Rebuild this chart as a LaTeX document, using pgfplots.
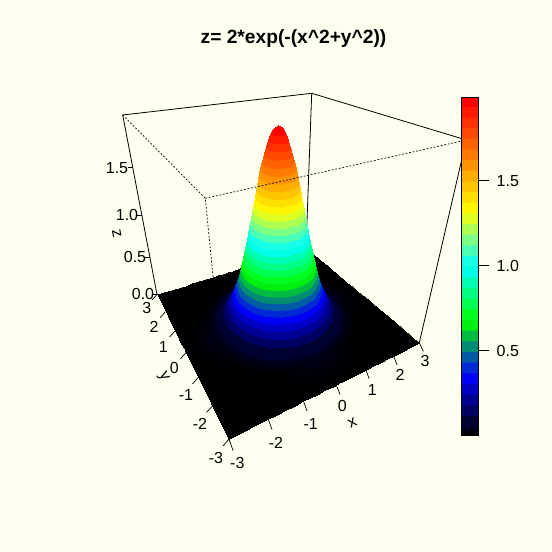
\documentclass[border=0pt]{standalone}
\usepackage{fontspec}
\setmainfont{Liberation Sans}
\usepackage{pgfplots}
\usepackage{pgfplotstable}
\pgfplotsset{compat=1.18}
\definecolor{ivory}{RGB}{255,255,240}
\pgfplotsset{colormap={bands}{
rgb255(0pt)=(0,0,0) rgb255(1pt)=(0,0,0) rgb255(9pt)=(0,0,40)
rgb255(10pt)=(0,0,49) rgb255(19pt)=(0,0,49)
rgb255(20pt)=(0,0,99) rgb255(29pt)=(0,0,99)
rgb255(30pt)=(0,0,148) rgb255(39pt)=(0,0,148)
rgb255(40pt)=(0,0,197) rgb255(49pt)=(0,0,197)
rgb255(50pt)=(0,0,247) rgb255(59pt)=(0,0,247)
rgb255(60pt)=(0,41,214) rgb255(69pt)=(0,41,214)
rgb255(70pt)=(0,90,165) rgb255(79pt)=(0,90,165)
rgb255(80pt)=(0,140,115) rgb255(89pt)=(0,140,115)
rgb255(90pt)=(0,189,66) rgb255(99pt)=(0,189,66)
rgb255(100pt)=(0,238,16) rgb255(109pt)=(0,238,16)
rgb255(110pt)=(0,255,33) rgb255(119pt)=(0,255,33)
rgb255(120pt)=(0,255,82) rgb255(129pt)=(0,255,82)
rgb255(130pt)=(0,255,132) rgb255(139pt)=(0,255,132)
rgb255(140pt)=(0,255,181) rgb255(149pt)=(0,255,181)
rgb255(150pt)=(0,255,230) rgb255(159pt)=(0,255,230)
rgb255(160pt)=(25,255,230) rgb255(169pt)=(25,255,230)
rgb255(170pt)=(74,255,181) rgb255(179pt)=(74,255,181)
rgb255(180pt)=(123,255,132) rgb255(189pt)=(123,255,132)
rgb255(190pt)=(173,255,82) rgb255(199pt)=(173,255,82)
rgb255(200pt)=(222,255,33) rgb255(209pt)=(222,255,33)
rgb255(210pt)=(255,247,0) rgb255(219pt)=(255,247,0)
rgb255(220pt)=(255,222,0) rgb255(229pt)=(255,222,0)
rgb255(230pt)=(255,197,0) rgb255(239pt)=(255,197,0)
rgb255(240pt)=(255,173,0) rgb255(249pt)=(255,173,0)
rgb255(250pt)=(255,148,0) rgb255(259pt)=(255,148,0)
rgb255(260pt)=(255,123,0) rgb255(269pt)=(255,123,0)
rgb255(270pt)=(255,99,0) rgb255(279pt)=(255,99,0)
rgb255(280pt)=(255,74,0) rgb255(289pt)=(255,74,0)
rgb255(290pt)=(255,49,0) rgb255(299pt)=(255,49,0)
rgb255(300pt)=(255,25,0) rgb255(309pt)=(255,25,0)
rgb255(310pt)=(255,0,0) rgb255(320pt)=(255,0,0)
}}
\newcommand{\fs}{\fontsize{16bp}{18bp}\selectfont}
\tikzset{tk/.style={black, line width=.7bp}}
\pgfplotstableread{
x y z
3 3 0
2 3 0
1.75 3 0
1.5 3 0
1.25 3 0
1 3 0
.8 3 0
.6 3 0
.4 3 0
.2 3 0
.1 3 0
0 3 0
-.1 3 0
-.2 3 0
-.4 3 0
-.6 3 0
-.8 3 0
-1 3 0
-1.25 3 0
-1.5 3 0
-1.75 3 0
-2 3 0
-3 3 0
3 2 0
2 2 .001
1.75 2 .002
1.5 2 .004
1.25 2 .008
1 2 .013
.8 2 .019
.6 2 .026
.4 2 .031
.2 2 .035
.1 2 .036
0 2 .037
-.1 2 .036
-.2 2 .035
-.4 2 .031
-.6 2 .026
-.8 2 .019
-1 2 .013
-1.25 2 .008
-1.5 2 .004
-1.75 2 .002
-2 2 .001
-3 2 0
3 1.75 0
2 1.75 .002
1.75 1.75 .004
1.5 1.75 .010
1.25 1.75 .020
1 1.75 .034
.8 1.75 .049
.6 1.75 .065
.4 1.75 .080
.2 1.75 .090
.1 1.75 .093
0 1.75 .094
-.1 1.75 .093
-.2 1.75 .090
-.4 1.75 .080
-.6 1.75 .065
-.8 1.75 .049
-1 1.75 .034
-1.25 1.75 .020
-1.5 1.75 .010
-1.75 1.75 .004
-2 1.75 .002
-3 1.75 0
3 1.5 0
2 1.5 .004
1.75 1.5 .010
1.5 1.5 .022
1.25 1.5 .044
1 1.5 .078
.8 1.5 .111
.6 1.5 .147
.4 1.5 .180
.2 1.5 .203
.1 1.5 .209
0 1.5 .211
-.1 1.5 .209
-.2 1.5 .203
-.4 1.5 .180
-.6 1.5 .147
-.8 1.5 .111
-1 1.5 .078
-1.25 1.5 .044
-1.5 1.5 .022
-1.75 1.5 .010
-2 1.5 .004
-3 1.5 0
3 1.25 0
2 1.25 .008
1.75 1.25 .020
1.5 1.25 .044
1.25 1.25 .088
1 1.25 .154
.8 1.25 .221
.6 1.25 .292
.4 1.25 .357
.2 1.25 .403
.1 1.25 .415
0 1.25 .419
-.1 1.25 .415
-.2 1.25 .403
-.4 1.25 .357
-.6 1.25 .292
-.8 1.25 .221
-1 1.25 .154
-1.25 1.25 .088
-1.5 1.25 .044
-1.75 1.25 .020
-2 1.25 .008
-3 1.25 0
3 1 0
2 1 .013
1.75 1 .034
1.5 1 .078
1.25 1 .154
1 1 .271
.8 1 .388
.6 1 .513
.4 1 .627
.2 1 .707
.1 1 .728
0 1 .736
-.1 1 .728
-.2 1 .707
-.4 1 .627
-.6 1 .513
-.8 1 .388
-1 1 .271
-1.25 1 .154
-1.5 1 .078
-1.75 1 .034
-2 1 .013
-3 1 0
3 .8 0
2 .8 .019
1.75 .8 .049
1.5 .8 .111
1.25 .8 .221
1 .8 .388
.8 .8 .556
.6 .8 .736
.4 .8 .899
.2 .8 1.013
.1 .8 1.044
0 .8 1.055
-.1 .8 1.044
-.2 .8 1.013
-.4 .8 .899
-.6 .8 .736
-.8 .8 .556
-1 .8 .388
-1.25 .8 .221
-1.5 .8 .111
-1.75 .8 .049
-2 .8 .019
-3 .8 0
3 .6 0
2 .6 .026
1.75 .6 .065
1.5 .6 .147
1.25 .6 .292
1 .6 .513
.8 .6 .736
.6 .6 .974
.4 .6 1.189
.2 .6 1.341
.1 .6 1.381
0 .6 1.395
-.1 .6 1.381
-.2 .6 1.341
-.4 .6 1.189
-.6 .6 .974
-.8 .6 .736
-1 .6 .513
-1.25 .6 .292
-1.5 .6 .147
-1.75 .6 .065
-2 .6 .026
-3 .6 0
3 .4 0
2 .4 .031
1.75 .4 .080
1.5 .4 .180
1.25 .4 .357
1 .4 .627
.8 .4 .899
.6 .4 1.189
.4 .4 1.452
.2 .4 1.637
.1 .4 1.687
0 .4 1.704
-.1 .4 1.687
-.2 .4 1.637
-.4 .4 1.452
-.6 .4 1.189
-.8 .4 .899
-1 .4 .627
-1.25 .4 .357
-1.5 .4 .180
-1.75 .4 .080
-2 .4 .031
-3 .4 0
3 .2 0
2 .2 .035
1.75 .2 .090
1.5 .2 .203
1.25 .2 .403
1 .2 .707
.8 .2 1.013
.6 .2 1.341
.4 .2 1.637
.2 .2 1.846
.1 .2 1.902
0 .2 1.922
-.1 .2 1.902
-.2 .2 1.846
-.4 .2 1.637
-.6 .2 1.341
-.8 .2 1.013
-1 .2 .707
-1.25 .2 .403
-1.5 .2 .203
-1.75 .2 .090
-2 .2 .035
-3 .2 0
3 .1 0
2 .1 .036
1.75 .1 .093
1.5 .1 .209
1.25 .1 .415
1 .1 .728
.8 .1 1.044
.6 .1 1.381
.4 .1 1.687
.2 .1 1.902
.1 .1 1.961
0 .1 1.980
-.1 .1 1.961
-.2 .1 1.902
-.4 .1 1.687
-.6 .1 1.381
-.8 .1 1.044
-1 .1 .728
-1.25 .1 .415
-1.5 .1 .209
-1.75 .1 .093
-2 .1 .036
-3 .1 0
3 0 0
2 0 .037
1.75 0 .094
1.5 0 .211
1.25 0 .419
1 0 .736
.8 0 1.055
.6 0 1.395
.4 0 1.704
.2 0 1.922
.1 0 1.980
0 0 2
-.1 0 1.980
-.2 0 1.922
-.4 0 1.704
-.6 0 1.395
-.8 0 1.055
-1 0 .736
-1.25 0 .419
-1.5 0 .211
-1.75 0 .094
-2 0 .037
-3 0 0
3 -.1 0
2 -.1 .036
1.75 -.1 .093
1.5 -.1 .209
1.25 -.1 .415
1 -.1 .728
.8 -.1 1.044
.6 -.1 1.381
.4 -.1 1.687
.2 -.1 1.902
.1 -.1 1.961
0 -.1 1.980
-.1 -.1 1.961
-.2 -.1 1.902
-.4 -.1 1.687
-.6 -.1 1.381
-.8 -.1 1.044
-1 -.1 .728
-1.25 -.1 .415
-1.5 -.1 .209
-1.75 -.1 .093
-2 -.1 .036
-3 -.1 0
3 -.2 0
2 -.2 .035
1.75 -.2 .090
1.5 -.2 .203
1.25 -.2 .403
1 -.2 .707
.8 -.2 1.013
.6 -.2 1.341
.4 -.2 1.637
.2 -.2 1.846
.1 -.2 1.902
0 -.2 1.922
-.1 -.2 1.902
-.2 -.2 1.846
-.4 -.2 1.637
-.6 -.2 1.341
-.8 -.2 1.013
-1 -.2 .707
-1.25 -.2 .403
-1.5 -.2 .203
-1.75 -.2 .090
-2 -.2 .035
-3 -.2 0
3 -.4 0
2 -.4 .031
1.75 -.4 .080
1.5 -.4 .180
1.25 -.4 .357
1 -.4 .627
.8 -.4 .899
.6 -.4 1.189
.4 -.4 1.452
.2 -.4 1.637
.1 -.4 1.687
0 -.4 1.704
-.1 -.4 1.687
-.2 -.4 1.637
-.4 -.4 1.452
-.6 -.4 1.189
-.8 -.4 .899
-1 -.4 .627
-1.25 -.4 .357
-1.5 -.4 .180
-1.75 -.4 .080
-2 -.4 .031
-3 -.4 0
3 -.6 0
2 -.6 .026
1.75 -.6 .065
1.5 -.6 .147
1.25 -.6 .292
1 -.6 .513
.8 -.6 .736
.6 -.6 .974
.4 -.6 1.189
.2 -.6 1.341
.1 -.6 1.381
0 -.6 1.395
-.1 -.6 1.381
-.2 -.6 1.341
-.4 -.6 1.189
-.6 -.6 .974
-.8 -.6 .736
-1 -.6 .513
-1.25 -.6 .292
-1.5 -.6 .147
-1.75 -.6 .065
-2 -.6 .026
-3 -.6 0
3 -.8 0
2 -.8 .019
1.75 -.8 .049
1.5 -.8 .111
1.25 -.8 .221
1 -.8 .388
.8 -.8 .556
.6 -.8 .736
.4 -.8 .899
.2 -.8 1.013
.1 -.8 1.044
0 -.8 1.055
-.1 -.8 1.044
-.2 -.8 1.013
-.4 -.8 .899
-.6 -.8 .736
-.8 -.8 .556
-1 -.8 .388
-1.25 -.8 .221
-1.5 -.8 .111
-1.75 -.8 .049
-2 -.8 .019
-3 -.8 0
3 -1 0
2 -1 .013
1.75 -1 .034
1.5 -1 .078
1.25 -1 .154
1 -1 .271
.8 -1 .388
.6 -1 .513
.4 -1 .627
.2 -1 .707
.1 -1 .728
0 -1 .736
-.1 -1 .728
-.2 -1 .707
-.4 -1 .627
-.6 -1 .513
-.8 -1 .388
-1 -1 .271
-1.25 -1 .154
-1.5 -1 .078
-1.75 -1 .034
-2 -1 .013
-3 -1 0
3 -1.25 0
2 -1.25 .008
1.75 -1.25 .020
1.5 -1.25 .044
1.25 -1.25 .088
1 -1.25 .154
.8 -1.25 .221
.6 -1.25 .292
.4 -1.25 .357
.2 -1.25 .403
.1 -1.25 .415
0 -1.25 .419
-.1 -1.25 .415
-.2 -1.25 .403
-.4 -1.25 .357
-.6 -1.25 .292
-.8 -1.25 .221
-1 -1.25 .154
-1.25 -1.25 .088
-1.5 -1.25 .044
-1.75 -1.25 .020
-2 -1.25 .008
-3 -1.25 0
3 -1.5 0
2 -1.5 .004
1.75 -1.5 .010
1.5 -1.5 .022
1.25 -1.5 .044
1 -1.5 .078
.8 -1.5 .111
.6 -1.5 .147
.4 -1.5 .180
.2 -1.5 .203
.1 -1.5 .209
0 -1.5 .211
-.1 -1.5 .209
-.2 -1.5 .203
-.4 -1.5 .180
-.6 -1.5 .147
-.8 -1.5 .111
-1 -1.5 .078
-1.25 -1.5 .044
-1.5 -1.5 .022
-1.75 -1.5 .010
-2 -1.5 .004
-3 -1.5 0
3 -1.75 0
2 -1.75 .002
1.75 -1.75 .004
1.5 -1.75 .010
1.25 -1.75 .020
1 -1.75 .034
.8 -1.75 .049
.6 -1.75 .065
.4 -1.75 .080
.2 -1.75 .090
.1 -1.75 .093
0 -1.75 .094
-.1 -1.75 .093
-.2 -1.75 .090
-.4 -1.75 .080
-.6 -1.75 .065
-.8 -1.75 .049
-1 -1.75 .034
-1.25 -1.75 .020
-1.5 -1.75 .010
-1.75 -1.75 .004
-2 -1.75 .002
-3 -1.75 0
3 -2 0
2 -2 .001
1.75 -2 .002
1.5 -2 .004
1.25 -2 .008
1 -2 .013
.8 -2 .019
.6 -2 .026
.4 -2 .031
.2 -2 .035
.1 -2 .036
0 -2 .037
-.1 -2 .036
-.2 -2 .035
-.4 -2 .031
-.6 -2 .026
-.8 -2 .019
-1 -2 .013
-1.25 -2 .008
-1.5 -2 .004
-1.75 -2 .002
-2 -2 .001
-3 -2 0
3 -3 0
2 -3 0
1.75 -3 0
1.5 -3 0
1.25 -3 0
1 -3 0
.8 -3 0
.6 -3 0
.4 -3 0
.2 -3 0
.1 -3 0
0 -3 0
-.1 -3 0
-.2 -3 0
-.4 -3 0
-.6 -3 0
-.8 -3 0
-1 -3 0
-1.25 -3 0
-1.5 -3 0
-1.75 -3 0
-2 -3 0
-3 -3 0
}\surfdata
\begin{document}
\begin{tikzpicture}[x=1bp,y=1bp]
\path[use as bounding box] (0,0) rectangle (552,552);
\fill[ivory] (0,0) rectangle (552,552);
\begin{scope}[every node/.style={font=\fs, inner sep=0pt}]
\begin{axis}[
  at={(0bp,0bp)}, anchor=south west, scale only axis, width=552bp, height=552bp,
  xmin=0, xmax=552, ymin=0, ymax=552, y dir=reverse, hide axis,
  colormap name=bands, point meta min=0, point meta max=2,
]
% box edges behind the surface
\addplot[black, line width=.8bp, forget plot] coordinates {(122.7,115) (311.7,93.3) (466.3,140)};
\addplot[black, line width=.8bp, forget plot] coordinates {(122.7,115) (157,294.5)};
\addplot[black, line width=.8bp, forget plot] coordinates {(311.7,93.3) (306,248)};
\addplot[black, line width=.8bp, forget plot] coordinates {(466.3,140) (419.3,342.7)};
\addplot[black, line width=.7bp, dash pattern=on 1.8bp off 1.8bp, forget plot] coordinates {(122.7,115) (205.3,198.3) (229,439)};
% surface: x, y, z are data, the two expressions are the perspective of the box
\addplot[surf, shader=interp, mesh/rows=23, mesh/cols=23, mesh/ordering=x varies, point meta=\thisrow{z}]
 table[
  x expr={(385.3+51.283*\thisrow{x}+0.8167*\thisrow{y}-45*\thisrow{z})/(1.385+0.04667*\thisrow{x}+0.08167*\thisrow{y}-0.1613*\thisrow{z})},
  y expr={(438.75-0.05*\thisrow{x}-0.0333*\thisrow{y}-152.9*\thisrow{z})/(1.385+0.04667*\thisrow{x}+0.08167*\thisrow{y}-0.1613*\thisrow{z})}
 ] {\surfdata};
\addplot[black, line width=.7bp, dash pattern=on 1.8bp off 1.8bp, forget plot] coordinates {(205.3,198.3) (466.3,140)};
% ticks
\draw[tk] (axis cs:229,439)--(axis cs:233,450.5);
\draw[tk] (axis cs:268.5,420)--(axis cs:272,429.5);
\draw[tk] (axis cs:303.8,402)--(axis cs:307,411);
\draw[tk] (axis cs:336.5,385.5)--(axis cs:340,394.5);
\draw[tk] (axis cs:366.2,370.5)--(axis cs:369,378.5);
\draw[tk] (axis cs:393.8,356.5)--(axis cs:397,365);
\draw[tk] (axis cs:419.3,342.7)--(axis cs:423.3,351.5);
\draw[tk] (axis cs:229,439)--(axis cs:223,446);
\draw[tk] (axis cs:212.5,405.8)--(axis cs:206.5,412.5);
\draw[tk] (axis cs:198.2,377.3)--(axis cs:192.5,384);
\draw[tk] (axis cs:185.9,352.5)--(axis cs:180.4,359);
\draw[tk] (axis cs:175.1,330.8)--(axis cs:169.6,337);
\draw[tk] (axis cs:165.5,311.6)--(axis cs:160.2,317.6);
\draw[tk] (axis cs:157,294.5)--(axis cs:152,300);
\draw[tk] (axis cs:157,294.5)--(axis cs:152,294.5);
\draw[tk] (axis cs:150,257.1)--(axis cs:145,257.1);
\draw[tk] (axis cs:142,215.2)--(axis cs:137,215.2);
\draw[tk] (axis cs:133.3,167.8)--(axis cs:128.3,167.8);
% labels
\node at (axis cs:293.5,39) {\fontsize{19.2bp}{22bp}\selectfont\bfseries z= 2*exp(-(x\textasciicircum2+y\textasciicircum2))};
\node at (axis cs:117,168) {1.5};
\node at (axis cs:127,215) {1.0};
\node at (axis cs:135,257) {0.5};
\node at (axis cs:143,294) {0.0};
\node[rotate=-79] at (axis cs:116.7,234) {z};
\node at (axis cs:146.7,308) {3};
\node at (axis cs:154,326.7) {2};
\node at (axis cs:163.3,346.7) {1};
\node at (axis cs:174.3,368.3) {0};
\node at (axis cs:186,395) {-1};
\node at (axis cs:200,424) {-2};
\node at (axis cs:216,458.3) {-3};
\node[rotate=-62] at (axis cs:163.3,377.3) {y};
\node at (axis cs:237.3,463.3) {-3};
\node at (axis cs:276,443.3) {-2};
\node at (axis cs:310.7,424) {-1};
\node at (axis cs:342.3,406) {0};
\node at (axis cs:372.3,390) {1};
\node at (axis cs:400,375) {2};
\node at (axis cs:425,360.7) {3};
\node[rotate=26] at (axis cs:352.3,422.7) {x};
\end{axis}
\end{scope}
% colour key
\begin{axis}[
  at={(461.7bp,116.3bp)}, anchor=south west, scale only axis, width=17bp, height=338.4bp,
  xmin=0, xmax=1, ymin=0, ymax=1.99, xtick=\empty, ytick={0.5,1,1.5},
  ytick pos=right, yticklabel pos=right, tick align=outside, major tick length=10bp,
  axis line style={line width=.8bp}, tick style={black, line width=.8bp},
  yticklabel style={font=\fs, /pgf/number format/assume math mode=true, /pgf/number format/fixed, /pgf/number format/fixed zerofill, /pgf/number format/precision=1, xshift=4.5bp},
  colormap name=bands, point meta min=0, point meta max=2, axis on top,
]
\addplot[surf, shader=interp, mesh/rows=2, mesh/cols=2, point meta=\thisrow{z}] table {
x y z
0 0 0
1 0 0
0 1.99 1.99
1 1.99 1.99
};
\end{axis}
\end{tikzpicture}
\end{document}
